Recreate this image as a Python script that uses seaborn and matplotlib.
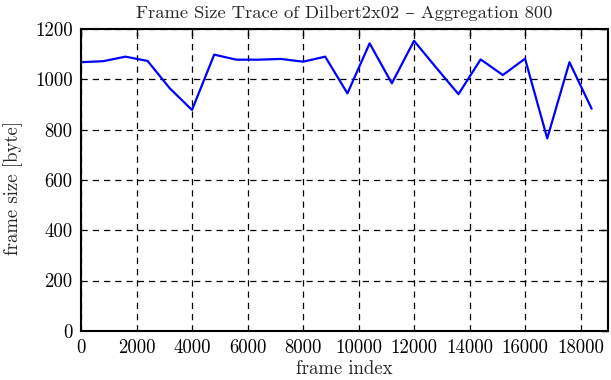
import matplotlib
matplotlib.use("Agg")
import matplotlib.pyplot as plt
import seaborn as sns
import pandas as pd

frame_index = [0, 800, 1600, 2400, 3200, 4000, 4800, 5600, 6400, 7200, 8000, 8800,
               9600, 10400, 11200, 12000, 12800, 13600, 14400, 15200, 16000, 16800,
               17600, 18400]
frame_size = [1068, 1072, 1090, 1073, 964, 878, 1098, 1078, 1078, 1081, 1070, 1090,
              944, 1143, 984, 1153, 1046, 941, 1079, 1017, 1082, 765, 1068, 883]
x_ticks = [0, 2000, 4000, 6000, 8000, 10000, 12000, 14000, 16000, 18000]
y_ticks = [0, 200, 400, 600, 800, 1000, 1200]

sns.set_style("white")
plt.rcParams['font.family'] = ['cmr10', 'DejaVu Serif']
plt.rcParams['axes.unicode_minus'] = False

df = pd.DataFrame({"frame index": frame_index, "frame size [byte]": frame_size})

fig = plt.figure(figsize=(6.11, 3.80), dpi=100)
ax = fig.add_axes([81/611, 1-330.8/380, (608.3-81)/611, (330.8-29)/380])
sns.lineplot(data=df, x="frame index", y="frame size [byte]", ax=ax,
             color="#0000ff", linewidth=1.6)
ax.set_xlim(0, 19000)
ax.set_ylim(0, 1200)
ax.set_xticks(x_ticks)
ax.set_yticks(y_ticks)
ax.set_xticklabels([str(v) for v in x_ticks])
ax.set_yticklabels([str(v) for v in y_ticks])
ax.grid(True, color="black", linestyle=(0, (5, 4)), linewidth=0.9)
for s in ax.spines.values():
    s.set_color("black")
    s.set_linewidth(1.5)
ax.tick_params(direction="in", length=5, width=1, top=True, right=True,
               labelsize=13.5, colors="black", pad=6)
ax.set_xlabel("frame index", fontsize=13.5)
ax.set_ylabel("frame size [byte]", fontsize=13.5)
ax.yaxis.set_label_coords(-0.11, 0.473)
ax.xaxis.set_label_coords(0.5, -0.097)
ax.set_title("Frame Size Trace of Dilbert2x02 \u2013 Aggregation 800", fontsize=13.3, pad=8)

fig.savefig("out.png", dpi=100)
